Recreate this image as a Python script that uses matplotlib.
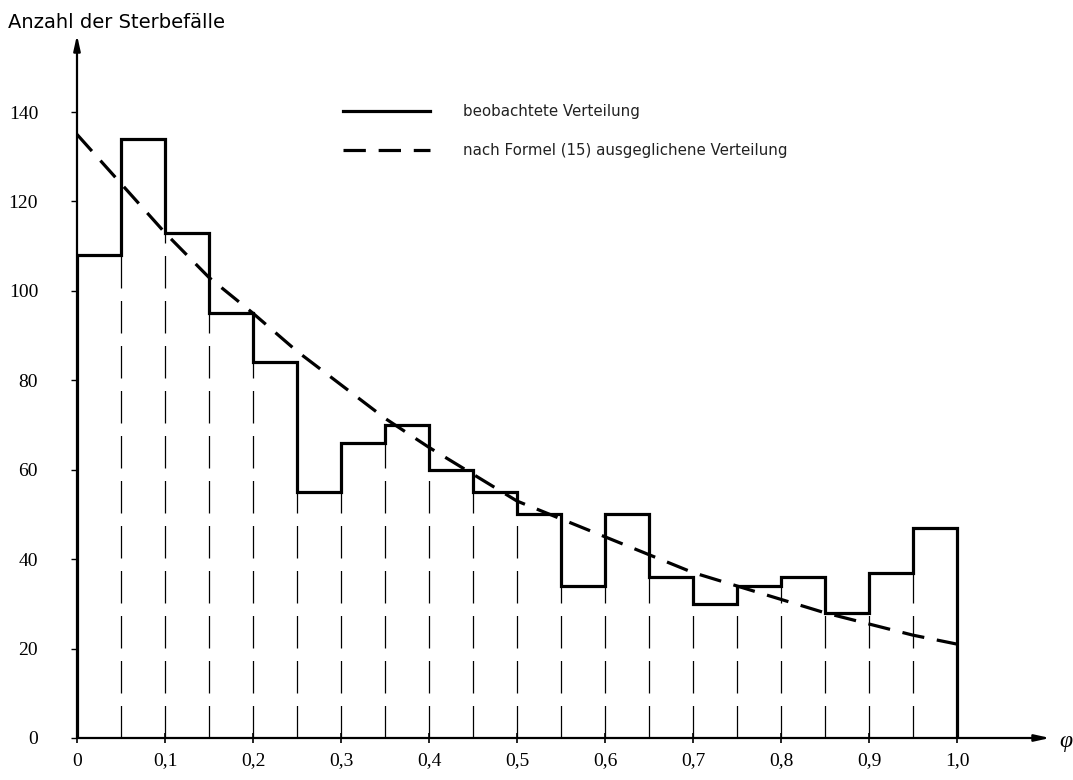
import matplotlib.pyplot as plt
import numpy as np

# Klassengrenzen und beobachtete Sterbefälle
edges = np.round(np.arange(0, 1.0001, 0.05), 2)
beobachtet = [108, 134, 113, 95, 84, 55, 66, 70, 60, 55,
              50, 34, 50, 36, 30, 34, 36, 28, 37, 47]

ausgeglichen = [135, 124, 113, 103, 95, 86.5, 79, 71.5, 65, 59, 53,
                49, 45, 41, 37, 34, 31, 28, 25.5, 23, 21]

ytick_vals = [0, 20, 40, 60, 80, 100, 120, 140]
xtick_vals = [0, 0.1, 0.2, 0.3, 0.4, 0.5, 0.6, 0.7, 0.8, 0.9, 1.0]
xtick_labels = ['0', '0,1', '0,2', '0,3', '0,4', '0,5', '0,6', '0,7', '0,8', '0,9', '1,0']

W, H = 1073, 780
fig = plt.figure(figsize=(W / 100, H / 100), dpi=100)
x0, y0, x1, y1 = 77, 738, 1050, 35
ax = fig.add_axes([x0 / W, (H - y0) / H, (x1 - x0) / W, (y0 - y1) / H])
ax.set_xlim(0, (x1 - x0) / 880)
ax.set_ylim(0, (y0 - y1) / 4.471)

# dünne gestrichelte Linien an den Klassengrenzen
heights = [min(beobachtet[i - 1], beobachtet[i]) for i in range(1, len(beobachtet))]
ax.vlines(edges[1:-1], 0, heights, colors='black', linewidth=0.9,
          linestyles=(0, (26, 10)))

ax.stairs(beobachtet, edges, baseline=0, color='black', linewidth=2.3,
          label='beobachtete Verteilung')
ax.plot(edges, ausgeglichen, color='black', linewidth=2.3, linestyle=(0, (7, 4)),
        label='nach Formel (15) ausgeglichene Verteilung')

for s in ['top', 'right', 'left', 'bottom']:
    ax.spines[s].set_visible(False)
ax.annotate('', xy=(0, 1), xytext=(0, 0), xycoords='axes fraction',
            arrowprops=dict(arrowstyle='-|>,head_length=0.9,head_width=0.2',
                            color='black', lw=1.6, shrinkA=0, shrinkB=0))
ax.annotate('', xy=(1, 0), xytext=(0, 0), xycoords='axes fraction',
            arrowprops=dict(arrowstyle='-|>,head_length=0.9,head_width=0.2',
                            color='black', lw=1.6, shrinkA=0, shrinkB=0))

serif = ['Liberation Serif', 'DejaVu Serif']
ax.set_yticks(ytick_vals)
ax.set_yticklabels([str(v) for v in ytick_vals], family=serif, fontsize=14)
ax.set_xticks(xtick_vals)
ax.set_xticklabels(xtick_labels, family=serif, fontsize=14)
ax.tick_params(axis='y', direction='out', length=4, width=1, pad=24)
ax.tick_params(axis='x', direction='inout', length=7, width=1.2, pad=7)

fig.text(1066 / W, (H - 742) / H, 'φ', family=serif, fontsize=17,
         style='italic', ha='center', va='center')
fig.text(8 / W, (H - 22) / H, 'Anzahl der Sterbefälle', fontsize=14,
         family=['DejaVu Sans'], ha='left', va='center')

leg = ax.legend(loc='upper left', bbox_to_anchor=((343 - x0) / (x1 - x0), (y0 - 104) / (y0 - y1)),
                frameon=False, fontsize=10.8, handlelength=5.8, handletextpad=2.2,
                labelspacing=1.6, borderaxespad=0, borderpad=0)
for t in leg.get_texts():
    t.set_color('#222222')

fig.savefig('out.png', dpi=100)
